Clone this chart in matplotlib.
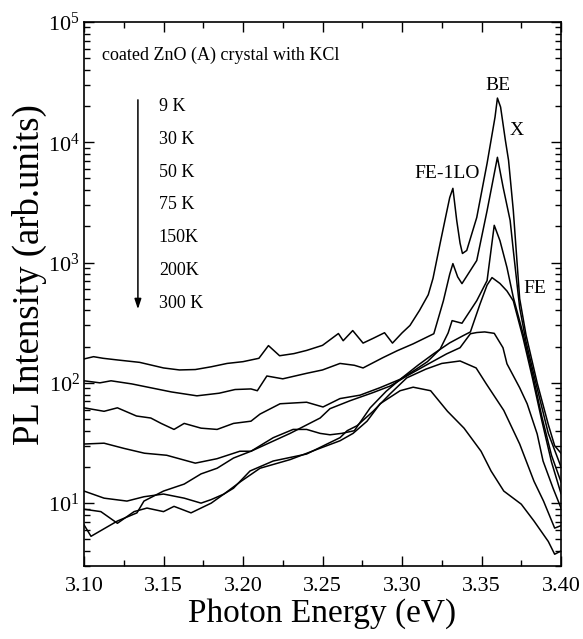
"""Temperature dependent PL spectra of a KCl coated ZnO (A) crystal."""

import matplotlib

matplotlib.use("Agg")
import matplotlib.pyplot as plt
from matplotlib.ticker import FixedLocator, LogLocator, LogFormatterMathtext, NullFormatter

# photon energy (eV) / PL intensity (arb. units)
E_9K = [3.100, 3.106, 3.112, 3.121, 3.135, 3.150, 3.160, 3.170, 3.180, 3.190,
        3.200, 3.210, 3.216, 3.223, 3.232, 3.240, 3.250, 3.260, 3.263, 3.269,
        3.2755, 3.282, 3.289, 3.294, 3.300, 3.305, 3.311, 3.3165, 3.3195, 3.324,
        3.328, 3.330, 3.332, 3.3344, 3.3365, 3.338, 3.3407, 3.347, 3.3535, 3.3585,
        3.360, 3.362, 3.365, 3.367, 3.370, 3.374, 3.378, 3.385, 3.392, 3.396, 3.400]
I_9K = [158, 165, 160, 155, 148, 133, 128, 129, 136, 145,
        150, 160, 204, 168, 175, 186, 205, 257, 224, 272,
        214, 235, 261, 214, 260, 300, 400, 540, 740, 1450,
        2600, 3470, 4140, 2240, 1450, 1190, 1260, 2370, 6680, 16200,
        23300, 19600, 10400, 7080, 2700, 500, 250, 100, 45, 30, 26]

E_30K = [3.100, 3.110, 3.117, 3.130, 3.142, 3.155, 3.171, 3.185, 3.195, 3.205,
         3.209, 3.215, 3.225, 3.240, 3.250, 3.261, 3.270, 3.2755, 3.288, 3.297,
         3.307, 3.320, 3.326, 3.330, 3.332, 3.335, 3.3377, 3.347, 3.3535, 3.360,
         3.3636, 3.368, 3.370, 3.374, 3.378, 3.385, 3.392, 3.400]
I_30K = [104, 100, 104, 98, 91, 84, 78, 82, 88, 89,
         86, 114, 108, 120, 128, 145, 140, 133, 162, 185,
         211, 256, 480, 800, 980, 760, 668, 1040, 2700, 7500,
         4220, 2240, 1260, 420, 220, 90, 38, 20]

E_50K = [3.100, 3.1126, 3.121, 3.133, 3.142, 3.1485, 3.1566, 3.163, 3.1736, 3.1837,
         3.194, 3.205, 3.2107, 3.2233, 3.240, 3.2503, 3.261, 3.2736, 3.286, 3.2988,
         3.307, 3.316, 3.324, 3.329, 3.3315, 3.3377, 3.347, 3.3535, 3.358, 3.3616,
         3.366, 3.370, 3.376, 3.382, 3.388, 3.394, 3.400]
I_50K = [62, 58, 62, 53, 51, 46, 41, 46, 42, 41,
         46, 48, 55, 67, 69, 63, 74, 79, 91, 107,
         125, 150, 191, 260, 329, 313, 482, 708, 2040, 1520,
         910, 513, 260, 120, 52, 25, 15]

E_75K = [3.100, 3.1126, 3.1252, 3.138, 3.152, 3.170, 3.1836, 3.198, 3.205, 3.219,
         3.2315, 3.240, 3.2485, 3.2547, 3.262, 3.270, 3.280, 3.290, 3.300, 3.310,
         3.320, 3.330, 3.338, 3.343, 3.349, 3.3535, 3.3566, 3.3616, 3.366, 3.370,
         3.376, 3.382, 3.388, 3.394, 3.400]
I_75K = [31, 31.5, 28.5, 26, 25, 21.5, 23.4, 27, 27, 35,
         41, 41, 38, 37, 38, 40, 62, 85, 110, 140,
         175, 215, 245, 265, 450, 650, 750, 670, 580, 480,
         240, 110, 48, 22, 12]

E_150K = [3.100, 3.1044, 3.121, 3.1333, 3.1377, 3.150, 3.163, 3.1736, 3.1837, 3.194,
          3.205, 3.2296, 3.2485, 3.2547, 3.2673, 3.2818, 3.2925, 3.303, 3.315, 3.328,
          3.3365, 3.343, 3.347, 3.352, 3.358, 3.3635, 3.366, 3.374, 3.3787, 3.385,
          3.3887, 3.395, 3.400]
I_150K = [6.6, 5.3, 7.1, 8.3, 10.4, 12.6, 14.4, 17.5, 19.5, 23.7,
          27, 38, 51, 61, 71, 83, 94, 114, 140, 174,
          196, 256, 262, 265, 258, 196, 144, 91, 67, 37.6,
          22.4, 13.3, 9.1]

E_200K = [3.100, 3.1126, 3.127, 3.1377, 3.150, 3.163, 3.1736, 3.180, 3.188, 3.194,
          3.2044, 3.219, 3.240, 3.2528, 3.261, 3.2655, 3.2717, 3.2818, 3.2925, 3.303,
          3.315, 3.325, 3.3365, 3.3466, 3.353, 3.364, 3.374, 3.383, 3.389, 3.396, 3.400]
I_200K = [12.6, 11, 10.4, 11.3, 11.9, 11, 10, 10.7, 11.9, 13.3,
          18.5, 22.4, 25.6, 31, 35, 40, 44, 58, 81, 110,
          130, 145, 152, 133, 98, 59, 31, 15.2, 10.4, 6.2, 6.5]

E_300K = [3.100, 3.1106, 3.121, 3.1315, 3.1396, 3.150, 3.1566, 3.1673, 3.180, 3.188,
          3.1988, 3.2107, 3.2296, 3.2466, 3.261, 3.2692, 3.278, 3.2862, 3.2988, 3.307,
          3.318, 3.3286, 3.339, 3.3497, 3.356, 3.364, 3.375, 3.383, 3.392, 3.396, 3.400]
I_300K = [8.9, 8.5, 6.8, 8.5, 9.1, 8.5, 9.4, 8.3, 10, 11.9,
          15.2, 19.5, 23, 28, 33, 38, 48, 67, 86, 92,
          86, 58, 42, 27, 18.5, 12.6, 9.8, 7.1, 4.8, 3.76, 4.0]

SPECTRA = [
    (E_9K, I_9K), (E_30K, I_30K), (E_50K, I_50K), (E_75K, I_75K),
    (E_150K, I_150K), (E_200K, I_200K), (E_300K, I_300K),
]
TEMP_LABELS = ["9 K", "30 K", "50 K", "75 K", "150K", "200K", "300 K"]

# peak assignments: (label, energy, intensity of label centre)
PEAK_LABELS = [("BE", 3.3604, 29850), ("X", 3.3724, 12590),
               ("FE-1LO", 3.3283, 5520), ("FE", 3.3837, 607)]


def main():
    plt.rcParams["font.family"] = ["Liberation Serif", "DejaVu Serif"]
    plt.rcParams["mathtext.fontset"] = "custom"
    plt.rcParams["mathtext.rm"] = "Liberation Serif"
    plt.rcParams["mathtext.it"] = "Liberation Serif:italic"

    fig = plt.figure(figsize=(5.83, 6.39), dpi=100)
    ax = fig.add_axes([0.1441, 0.1142, 0.8182, 0.8514])

    for energy, intensity in SPECTRA:
        ax.plot(energy, intensity, color="black", linewidth=1.1)

    ax.set_yscale("log")
    ax.set_xlim(3.10, 3.40)
    ax.set_ylim(3, 1e5)

    ax.xaxis.set_major_locator(FixedLocator([3.10, 3.15, 3.20, 3.25, 3.30, 3.35, 3.40]))
    ax.xaxis.set_minor_locator(FixedLocator([3.125, 3.175, 3.225, 3.275, 3.325, 3.375]))
    ax.set_xticklabels(["3.10", "3.15", "3.20", "3.25", "3.30", "3.35", "3.40"])
    ax.yaxis.set_major_locator(LogLocator(base=10, numticks=10))
    ax.yaxis.set_minor_locator(LogLocator(base=10, subs=range(2, 10), numticks=20))
    ax.yaxis.set_major_formatter(LogFormatterMathtext())
    ax.yaxis.set_minor_formatter(NullFormatter())

    ax.tick_params(which="both", direction="in", top=True, right=True, width=1)
    ax.tick_params(which="major", length=7, labelsize=16)
    ax.tick_params(axis="x", which="major", pad=8)
    ax.tick_params(axis="y", which="major", pad=3)
    ax.tick_params(which="minor", length=4)
    for spine in ax.spines.values():
        spine.set_linewidth(1.2)

    ax.set_xlabel("Photon Energy (eV)", fontsize=24)
    ax.set_ylabel("PL Intensity (arb.units)", fontsize=26.5)
    ax.xaxis.set_label_coords(0.5, -0.060)
    ax.yaxis.set_label_coords(-0.078, 0.535)

    # sample description and temperature list
    ax.text(0.038, 0.939, "coated ZnO (A) crystal with KCl", transform=ax.transAxes,
            fontsize=13, va="center", ha="left")
    for i, label in enumerate(TEMP_LABELS):
        ax.text(0.157, 0.844 - i * 0.0601, label, transform=ax.transAxes,
                fontsize=13, va="center", ha="left")
    ax.annotate("", xy=(0.113, 0.467), xytext=(0.113, 0.862),
                xycoords="axes fraction", textcoords="axes fraction",
                arrowprops=dict(arrowstyle="-|>,head_length=0.6,head_width=0.2",
                                color="black", lw=1.1))

    for label, energy, intensity in PEAK_LABELS:
        ax.text(energy, intensity, label, fontsize=14, ha="center", va="center")

    fig.savefig("out.png", dpi=100)


if __name__ == "__main__":
    main()
